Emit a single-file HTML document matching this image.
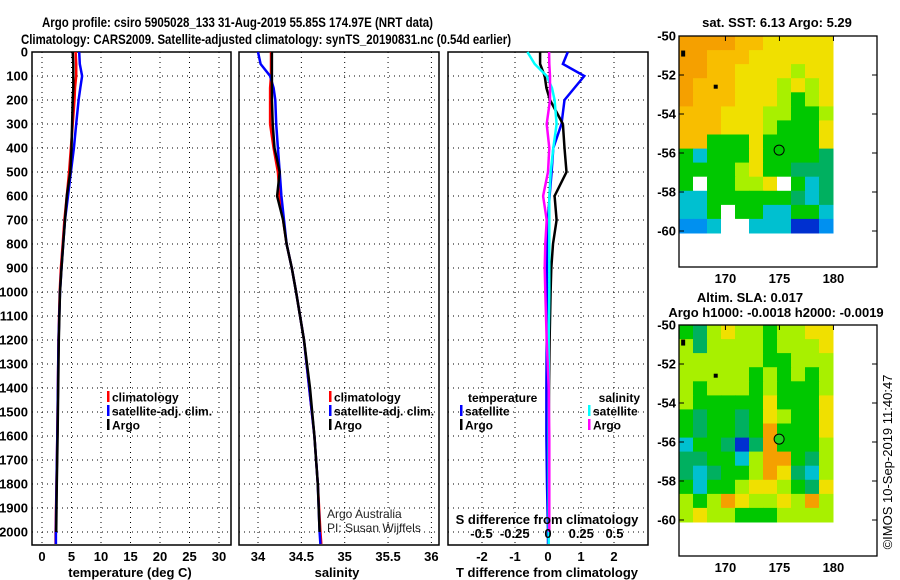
<!DOCTYPE html>
<html><head><meta charset="utf-8"><style>
html,body{margin:0;padding:0;background:#fff}
svg{display:block}
text{font-family:"Liberation Sans",sans-serif;font-weight:bold;font-size:12px;fill:#000}
</style></head><body>
<svg id="chart" width="900" height="580" viewBox="0 0 900 580" xmlns="http://www.w3.org/2000/svg">
<text x="42" y="27" textLength="391" lengthAdjust="spacingAndGlyphs" style="font-size:14px">Argo profile: csiro 5905028_133 31-Aug-2019 55.85S 174.97E (NRT data)</text>
<text x="21" y="44" textLength="490" lengthAdjust="spacingAndGlyphs" style="font-size:14px">Climatology: CARS2009. Satellite-adjusted climatology: synTS_20190831.nc (0.54d earlier)</text>
<g id="g"></g>
</svg>
<script>
// ---- data ----
const depths = [0,50,100,150,200,300,400,500,600,700,800,900,1000,1200,1400,1600,1800,2000,2050];
const tempClim = [5.7,5.8,5.8,5.6,5.5,5.2,4.9,4.6,4.2,3.8,3.5,3.2,3.0,2.8,2.7,2.6,2.45,2.3,2.3];
const tempSat  = [6.3,6.4,6.8,6.5,6.2,5.8,5.4,4.9,4.4,3.9,3.6,3.3,3.05,2.8,2.7,2.6,2.45,2.35,2.35];
const tempArgo = [5.2,5.3,5.3,5.3,5.2,5.1,5.0,4.8,4.2,3.9,3.6,3.3,3.05,2.85,2.75,2.65,2.5,2.4,null];
const salClim = [34.15,34.15,34.15,34.14,34.14,34.14,34.18,34.23,34.25,34.29,34.33,34.39,34.44,34.53,34.59,34.65,34.69,34.72,34.73];
const salSat  = [34.00,34.03,34.14,34.18,34.20,34.21,34.23,34.25,34.27,34.30,34.33,34.39,34.44,34.53,34.59,34.65,34.69,34.71,34.72];
const salArgo = [34.16,34.16,34.16,34.16,34.16,34.17,34.19,34.25,34.22,34.29,34.33,34.39,34.44,34.53,34.60,34.65,34.69,34.71,null];
const tDiffSat  = [0.6,0.45,1.1,0.8,0.5,0.41,0.16,0.11,0.05,0.0,-0.02,-0.03,-0.03,-0.04,-0.05,-0.05,-0.03,0.0,0.0];
const tDiffArgo = [-0.24,-0.24,-0.1,-0.05,0.06,0.45,0.5,0.56,0.2,0.26,0.15,0.1,0.08,0.05,0.03,0.02,0.02,0.02,null];
const sDiffSat  = [-0.155,-0.1,-0.01,0.03,0.05,0.065,0.04,0.02,0.01,0.01,0.01,0.01,0.01,0.005,0.005,0.005,0.005,0.005,0.005];
const sDiffArgo = [0.008,0.01,0.015,0.015,0.015,-0.01,0.01,0.0,-0.037,-0.01,-0.02,-0.025,-0.02,-0.01,0.005,0.01,0.01,0.01,null];
const depthTicks = [0,100,200,300,400,500,600,700,800,900,1000,1100,1200,1300,1400,1500,1600,1700,1800,1900,2000];
const tempTicks = [0,5,10,15,20,25,30];
const salTicks = [34,34.5,35,35.5,36];
const salTickLabels = ["34","34.5","35","35.5","36"];
const tdTicks = [-2,-1,0,1,2];
const sdTicks = [-0.5,-0.25,0,0.25,0.5];
const sdTickLabels = ["-0.5","-0.25","0","0.25","0.5"];
const latTicks = [-50,-52,-54,-56,-58,-60];
const lonTicks = [170,175,180];
const argoLon = 174.97, argoLat = -55.85;

const NS="http://www.w3.org/2000/svg";
const G=document.getElementById('g');
function el(tag,attrs,parent){const e=document.createElementNS(NS,tag);for(const k in attrs)e.setAttribute(k,attrs[k]);(parent||G).appendChild(e);return e;}
function txt(x,y,s,anchor,extra){const t=el('text',Object.assign({x:x,y:y,'text-anchor':anchor||'start'},extra||{}));t.textContent=s;return t;}

const yTop=52, pxPerM=0.24, yBot=545;
const yD=d=>yTop+d*pxPerM;
const xT=v=>42+v*5.9;
const xS=v=>258+(v-34)*86.7;
const xTD=v=>548+v*33;
const xSD=v=>548+v*133;

function panel(x0,x1,name){
  const r=el('rect',{x:x0,y:yTop,width:x1-x0,height:yBot-yTop,fill:'none',stroke:'#000','stroke-width':1.5});
  
  
  depthTicks.forEach(d=>{
    if(d===0)return;
    const l=el('line',{x1:x0,x2:x1,y1:yD(d),y2:yD(d),stroke:'#000','stroke-dasharray':'1,4'});
    
    
  });
}
function vgrid(xs,name){
  xs.forEach(x=>{
    const l=el('line',{x1:x,x2:x,y1:yTop,y2:yBot,stroke:'#000','stroke-dasharray':'1,4'});
    
    
  });
}
function series(vals,xf,color,name){
  let pts=[];
  depths.forEach((d,i)=>{if(vals[i]!==null)pts.push(xf(vals[i]).toFixed(1)+','+yD(d).toFixed(1));});
  const p=el('polyline',{points:pts.join(' '),fill:'none',stroke:color,'stroke-width':2.5});
  
  
}
function legend(x,y,color,label,name){
  const b=el('rect',{x:x,y:y-6,width:2.5,height:11,fill:color});
  
  
  const t=txt(x+5,y+4.5,label);
  
  
}

// Panel 1 temperature
panel(32,231,'temperature-panel');
vgrid(tempTicks.map(xT),'temperature-gridline');
depthTicks.forEach(d=>{const t=txt(28,yD(d)+4.5,String(d),'end',{style:'font-size:13px'});});
tempTicks.forEach(v=>{const t=txt(xT(v),561,String(v),'middle',{style:'font-size:13px'});});
{const t=txt(130,577,'temperature (deg C)','middle',{style:'font-size:13px'});}
series(tempClim,xT,'#f00','temperature-climatology-line');
series(tempSat,xT,'#00f','temperature-satellite-line');
series(tempArgo,xT,'#000','temperature-argo-line');
legend(107,397,'#f00','climatology','legend-climatology');
legend(107,411,'#00f','satellite-adj. clim.','legend-satellite');
legend(107,425,'#000','Argo','legend-argo');

// Panel 2 salinity
panel(239,439,'salinity-panel');
vgrid(salTicks.map(xS),'salinity-gridline');
salTicks.forEach((v,i)=>{const t=txt(xS(v),561,salTickLabels[i],'middle',{style:'font-size:13px'});});
{const t=txt(337,577,'salinity','middle',{style:'font-size:13px'});}
series(salClim,xS,'#f00','salinity-climatology-line');
series(salSat,xS,'#00f','salinity-satellite-line');
series(salArgo,xS,'#000','salinity-argo-line');
legend(329,397,'#f00','climatology','legend2-climatology');
legend(329,411,'#00f','satellite-adj. clim.','legend2-satellite');
legend(329,425,'#000','Argo','legend2-argo');
{const t=txt(327,518,'Argo Australia','start',{style:'font-weight:normal;font-size:12px;fill:#222'});}
{const t=txt(327,532,'PI: Susan Wijffels','start',{style:'font-weight:normal;font-size:12px;fill:#222'});}

// Panel 3 differences
panel(448,648,'difference-panel');
vgrid(tdTicks.map(xTD),'difference-gridline');
series(tDiffSat,xTD,'#00f','tdiff-satellite-line');
series(tDiffArgo,xTD,'#000','tdiff-argo-line');
series(sDiffSat,xSD,'#0ff','sdiff-satellite-line');
series(sDiffArgo,xSD,'#f0f','sdiff-argo-line');
tdTicks.forEach(v=>{const t=txt(xTD(v),561,String(v),'middle',{style:'font-size:13px'});});
sdTicks.forEach((v,i)=>{const t=txt(xSD(v),538,sdTickLabels[i],'middle',{style:'font-size:13px'});});
{const t=txt(547,524,'S difference from climatology','middle',{style:'font-size:13px'});}
{const t=txt(547,577,'T difference from climatology','middle',{style:'font-size:13px'});}
{const t=txt(468,402,'temperature');}
{const t=txt(640,402,'salinity','end');}
legend(460,411,'#00f','satellite','legend3-t-satellite');
legend(460,425,'#000','Argo','legend3-t-argo');
legend(588,411,'#0ff','satellite','legend3-s-satellite');
legend(588,425,'#f0f','Argo','legend3-s-argo');

// ---- maps ----
const pal={O:'#f5a000',o:'#f8be00',Y:'#f0e000',y:'#a8f000',G:'#00c800',g:'#00b060',C:'#00c0d0',B:'#0090f0',D:'#0030d0',W:'#ffffff'};
const sstGrid=[
"OOOOooYYYYY","OOoooYYYYYY","OOooYYYYyYY","OoooYYYyYyY","OoooYYYyGyY","oooYYYyyGGy","oooYYYyGGGY",
"ooGGGYGGGGY","GCGGGYGGGGg","GGGGyYGGggg","GWGGyyYWGCg","CCGGGGGGgCg","CCGWGGCCGGC","BBCWWCCCDDB"];
const slaGrid=[
"GgyYyyGyyYY","ygyyyyGyyyY","yyyyyyGGyyy","yyyyyGyGyGy","yGyyyGyGGGy","yGGGGGYGGGY","GgGGgGYyGGY",
"GgGGgGOGGGY","CGGgDgOGGGy","ggGGCyOOGgy","gCgGGyOYgCy","GCGGyYYyGgY","yGyOYyyYyOy","yYyyGGGyyyy"];
function lonX(l){return 679+(l-165.7)*10.8;}
function latY(l,top){return top+(-50-l)*19.5;}
function map(top,grid,name,fillCircle){
  const cw=154/11, ch=197/14;
  grid.forEach((row,r)=>{for(let c=0;c<row.length;c++){
    const rc=el('rect',{x:(679+c*cw).toFixed(1),y:(top+r*ch).toFixed(1),width:(cw+0.5).toFixed(1),height:(ch+0.5).toFixed(1),fill:pal[row[c]]});
    
    
  }});
  const f=el('rect',{x:679,y:top,width:198,height:231,fill:'none',stroke:'#000','stroke-width':1.3});
  
  
  latTicks.forEach(l=>{
    const y=latY(l,top);
    const tk=el('line',{x1:679,x2:684,y1:y,y2:y,stroke:'#000'});
    
    
    const tk2=el('line',{x1:872,x2:877,y1:y,y2:y,stroke:'#000'});
    
    
    const t=txt(676,y+4.5,String(l),'end',{style:'font-size:13px'});
    
    
  });
  lonTicks.forEach(l=>{
    const x=lonX(l);
    const tk=el('line',{x1:x,x2:x,y1:top,y2:top+5,stroke:'#000'});
    
    
    const t=txt(x,top+247,String(l),'middle',{style:'font-size:13px'});
    
    
  });
  const d1=el('rect',{x:lonX(165.9),y:latY(-50.9,top)-3,width:4,height:6,fill:'#000'});
  
  
  const d2=el('rect',{x:lonX(169.1)-2,y:latY(-52.6,top)-2,width:4,height:4,fill:'#000'});
  
  
  const c=el('circle',{cx:lonX(argoLon),cy:latY(argoLat,top),r:5,fill:fillCircle,stroke:'#000','stroke-width':1});
  
  
}
map(36,sstGrid,'sst-map','#00c800');
map(325,slaGrid,'sla-map','#20d020');
{const t=txt(777,27,'sat. SST: 6.13 Argo: 5.29','middle',{style:'font-size:13px'});}
{const t=txt(750,302,'Altim. SLA: 0.017','middle',{style:'font-size:13px'});}
{const t=txt(776,317,'Argo h1000: -0.0018 h2000: -0.0019','middle',{style:'font-size:13px'});}
{const t=txt(0,0,'©IMOS 10-Sep-2019 11:40:47','middle',{transform:'translate(892,462) rotate(-90)',style:'font-weight:normal;font-size:13px'});}
</script>
</body></html>
